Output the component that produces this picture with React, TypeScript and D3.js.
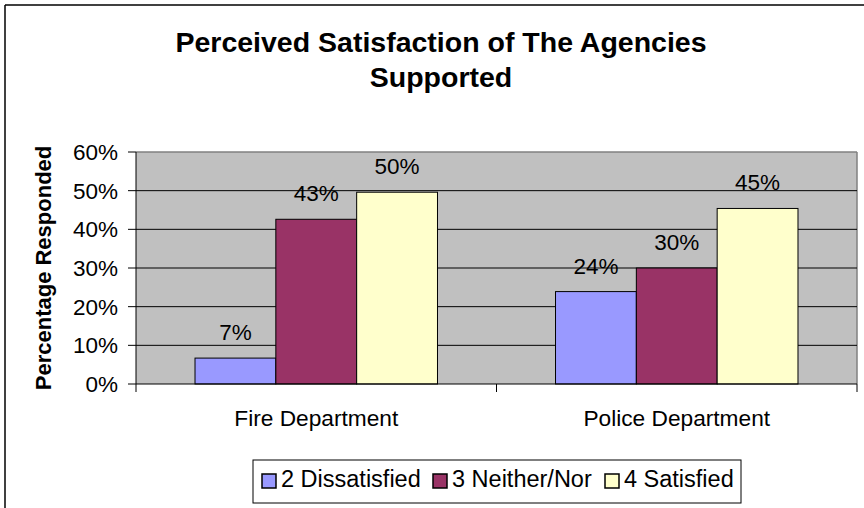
import React from "react";
import * as d3 from "d3";

const categories = ["Fire Department", "Police Department"];
const seriesNames = ["2 Dissatisfied", "3 Neither/Nor", "4 Satisfied"];
const dissatisfied = [0.067, 0.239];
const neither = [0.426, 0.3];
const satisfied = [0.496, 0.454];
const valueLabels = [
  ["7%", "24%"],
  ["43%", "30%"],
  ["50%", "45%"],
];
const yTicks = [0, 0.1, 0.2, 0.3, 0.4, 0.5, 0.6];
const colors = ["#9999FF", "#993366", "#FFFFCC"];

const W = 864;
const H = 508;
const FONT = "'Liberation Sans', Arial, Helvetica, sans-serif";

export default function App() {
  const series = [dissatisfied, neither, satisfied];
  const left = 136;
  const right = 857;
  const top = 152;
  const bottom = 384;

  const x = d3.scaleBand<string>().domain(categories).range([left, right]).padding(0);
  const bw = x.bandwidth();
  const gap = bw * 0.1637;
  const xs = d3
    .scaleBand<number>()
    .domain(d3.range(seriesNames.length))
    .range([gap, bw - gap])
    .padding(0);
  const y = d3.scaleLinear().domain([0, 0.6]).range([bottom, top]);
  const pct = d3.format(".0%");

  const legendSwatchX = [262, 433, 605];

  return (
    <svg
      width={W}
      height={H}
      style={{ position: "absolute", left: 0, top: 0, display: "block" }}
      fontFamily={FONT}
    >
      <rect x={0} y={0} width={W} height={H} fill="#ffffff" />
      {/* chart frame */}
      <line x1={5} y1={5} x2={W} y2={5} stroke="#000" strokeWidth={1.5} />
      <line x1={5} y1={5} x2={5} y2={H} stroke="#000" strokeWidth={1.5} />

      {/* title */}
      <text x={441} y={52} textAnchor="middle" fontSize={28.5} fontWeight="bold" fill="#000">
        Perceived Satisfaction of The Agencies
      </text>
      <text x={441} y={87} textAnchor="middle" fontSize={28.5} fontWeight="bold" fill="#000">
        Supported
      </text>

      {/* plot area */}
      <rect x={left} y={top} width={right - left} height={bottom - top} fill="#C0C0C0" />
      <line x1={left} y1={top} x2={right} y2={top} stroke="#808080" strokeWidth={1.5} />
      <line x1={right} y1={top} x2={right} y2={bottom} stroke="#808080" strokeWidth={1.5} />

      {/* gridlines */}
      {yTicks.slice(1, -1).map((t) => (
        <line key={"g" + t} x1={left} x2={right} y1={y(t)} y2={y(t)} stroke="#000" strokeWidth={1} />
      ))}

      {/* bars */}
      {categories.map((c, ci) =>
        series.map((s, si) => {
          const bx = (x(c) as number) + (xs(si) as number);
          return (
            <rect
              key={c + si}
              x={bx}
              y={y(s[ci])}
              width={xs.bandwidth()}
              height={bottom - y(s[ci])}
              fill={colors[si]}
              stroke="#000"
              strokeWidth={1}
            />
          );
        })
      )}

      {/* data labels */}
      {categories.map((c, ci) =>
        series.map((s, si) => {
          const cx = (x(c) as number) + (xs(si) as number) + xs.bandwidth() / 2;
          return (
            <text
              key={"l" + c + si}
              x={cx}
              y={y(s[ci]) - 18}
              textAnchor="middle"
              fontSize={22.5}
              fill="#000"
            >
              {valueLabels[si][ci]}
            </text>
          );
        })
      )}

      {/* axes */}
      <line x1={left} y1={top} x2={left} y2={bottom + 8} stroke="#000" strokeWidth={1} />
      <line x1={left} y1={bottom} x2={right} y2={bottom} stroke="#000" strokeWidth={1} />
      {yTicks.map((t) => (
        <g key={"t" + t}>
          <line x1={left - 8} x2={left} y1={y(t)} y2={y(t)} stroke="#000" strokeWidth={1} />
          <text x={118} y={y(t) + 8} textAnchor="end" fontSize={22.5} fill="#000">
            {pct(t)}
          </text>
        </g>
      ))}
      {[...categories.map((c) => x(c) as number), right].slice(1).map((px, i) => (
        <line key={"xt" + i} x1={px} x2={px} y1={bottom} y2={bottom + 8} stroke="#000" strokeWidth={1} />
      ))}
      {categories.map((c) => (
        <text
          key={"c" + c}
          x={(x(c) as number) + bw / 2}
          y={426}
          textAnchor="middle"
          fontSize={22.7}
          fill="#000"
        >
          {c}
        </text>
      ))}

      {/* y axis title */}
      <text
        transform={`translate(51, ${(top + bottom) / 2}) rotate(-90)`}
        textAnchor="middle"
        fontSize={22}
        fontWeight="bold"
        fill="#000"
      >
        Percentage Responded
      </text>

      {/* legend */}
      <rect x={253} y={460} width={488} height={43} fill="#fff" stroke="#000" strokeWidth={1} />
      {seriesNames.map((n, i) => (
        <g key={"lg" + n}>
          <rect x={legendSwatchX[i]} y={474} width={14} height={14} fill={colors[i]} stroke="#000" strokeWidth={1.5} />
          <text x={legendSwatchX[i] + 19} y={487} fontSize={23.5} fill="#000">
            {n}
          </text>
        </g>
      ))}
    </svg>
  );
}
